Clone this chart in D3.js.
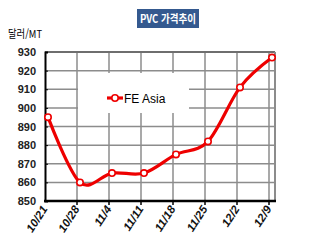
<!DOCTYPE html>
<html lang="ko">
<head>
<meta charset="UTF-8">
<title>PVC 가격추이</title>
<style>
  body { margin: 0; background: #fff; }
  svg { display: block; font-family: Arial, "Liberation Sans", "Noto Sans CJK KR", sans-serif; }
</style>
</head>
<body>
<svg width="310" height="249"></svg>
<script src="https://d3js.org/d3.v7.min.js"></script>
<script>
  const dates = ["10/21", "10/28", "11/4", "11/11", "11/18", "11/25", "12/2", "12/9"];
  const feAsia = [895, 860, 865, 865, 875, 882, 911, 927];
  const yTicks = [850, 860, 870, 880, 890, 900, 910, 920, 930];

  const svg = d3.select("svg");
  const plotL = 45, plotR = 275, plotT = 52, plotB = 201;

  const x = d3.scalePoint().domain(dates).range([48, 272]);
  const y = d3.scaleLinear().domain([850, 930]).range([plotB, plotT]);

  // title box
  svg.append("rect").attr("x", 137).attr("y", 9).attr("width", 62).attr("height", 19)
    .attr("fill", "#34598f");
  svg.append("text").attr("x", 140).attr("y", 22.5)
    .attr("fill", "#fff").attr("font-size", 11).attr("font-weight", "bold")
    .attr("font-family", "'Noto Sans CJK KR', sans-serif")
    .attr("textLength", 56).attr("lengthAdjust", "spacingAndGlyphs")
    .text("PVC 가격추이");

  svg.append("text").attr("x", 8).attr("y", 38).attr("font-size", 11)
    .attr("font-family", "'Noto Sans CJK KR', sans-serif").attr("fill", "#000")
    .attr("textLength", 34).attr("lengthAdjust", "spacingAndGlyphs")
    .text("달러/MT");

  // grid
  svg.append("g").selectAll("line").data(yTicks.slice(1, -1)).join("line")
    .attr("x1", plotL).attr("x2", plotR)
    .attr("y1", d => y(d)).attr("y2", d => y(d))
    .attr("stroke", "#8c8c8c").attr("stroke-width", 1.5);
  svg.append("g").selectAll("line").data(dates.slice(1)).join("line")
    .attr("x1", d => x(d) - 3).attr("x2", d => x(d) - 3)
    .attr("y1", plotT).attr("y2", plotB)
    .attr("stroke", "#8c8c8c").attr("stroke-width", 1.5);

  // legend box covers grid
  svg.append("rect").attr("x", 78).attr("y", 73).attr("width", 111).attr("height", 40).attr("fill", "#fff");

  // frame
  svg.append("line").attr("x1", plotL).attr("x2", plotR).attr("y1", plotT).attr("y2", plotT)
    .attr("stroke", "#6e6e6e").attr("stroke-width", 2);
  svg.append("line").attr("x1", plotR).attr("x2", plotR).attr("y1", plotT).attr("y2", plotB)
    .attr("stroke", "#8c8c8c").attr("stroke-width", 2);

  // y axis
  const yAxis = d3.axisLeft(y).tickValues(yTicks).tickSize(-3).tickPadding(9);
  const gy = svg.append("g").attr("transform", `translate(${plotL},0)`).call(yAxis);
  gy.select(".domain").attr("stroke", "#000").attr("stroke-width", 2);
  gy.selectAll(".tick line").attr("stroke", "#000");
  gy.selectAll("text").attr("font-size", 11).attr("font-weight", "bold")
    .attr("font-family", "Arial, sans-serif").attr("fill", "#222");

  // x axis
  svg.append("line").attr("x1", plotL - 1).attr("x2", plotR + 1).attr("y1", plotB).attr("y2", plotB)
    .attr("stroke", "#000").attr("stroke-width", 2.5);
  svg.append("g").selectAll("line").data(dates.slice(1)).join("line")
    .attr("x1", d => x(d) - 3).attr("x2", d => x(d) - 3)
    .attr("y1", plotB).attr("y2", plotB + 4).attr("stroke", "#000").attr("stroke-width", 1.5);
  svg.append("g").selectAll("text").data(dates).join("text")
    .attr("transform", d => `translate(${x(d)},${plotB + 8}) rotate(-57)`)
    .attr("text-anchor", "end").attr("font-size", 11.5).attr("font-weight", "bold")
    .attr("font-style", "italic").attr("font-family", "Arial, sans-serif")
    .attr("fill", "#111").text(d => d);

  // series
  const line = d3.line().x((d, i) => x(dates[i])).y(d => y(d)).curve(d3.curveCardinal.tension(0));
  svg.append("path").datum(feAsia).attr("d", line)
    .attr("fill", "none").attr("stroke", "#ee0000").attr("stroke-width", 3.2);
  svg.append("g").selectAll("circle").data(feAsia).join("circle")
    .attr("cx", (d, i) => x(dates[i])).attr("cy", d => y(d)).attr("r", 3.2)
    .attr("fill", "#fff").attr("stroke", "#ee0000").attr("stroke-width", 1.6);

  // legend
  svg.append("line").attr("x1", 107).attr("x2", 123).attr("y1", 98).attr("y2", 98)
    .attr("stroke", "#ee0000").attr("stroke-width", 3.2);
  svg.append("circle").attr("cx", 115).attr("cy", 98).attr("r", 3.2)
    .attr("fill", "#fff").attr("stroke", "#ee0000").attr("stroke-width", 1.6);
  svg.append("text").attr("x", 124).attr("y", 102.5).attr("font-size", 12)
    .attr("font-family", "Arial, sans-serif").attr("fill", "#000").text("FE Asia");
</script>
</body>
</html>
